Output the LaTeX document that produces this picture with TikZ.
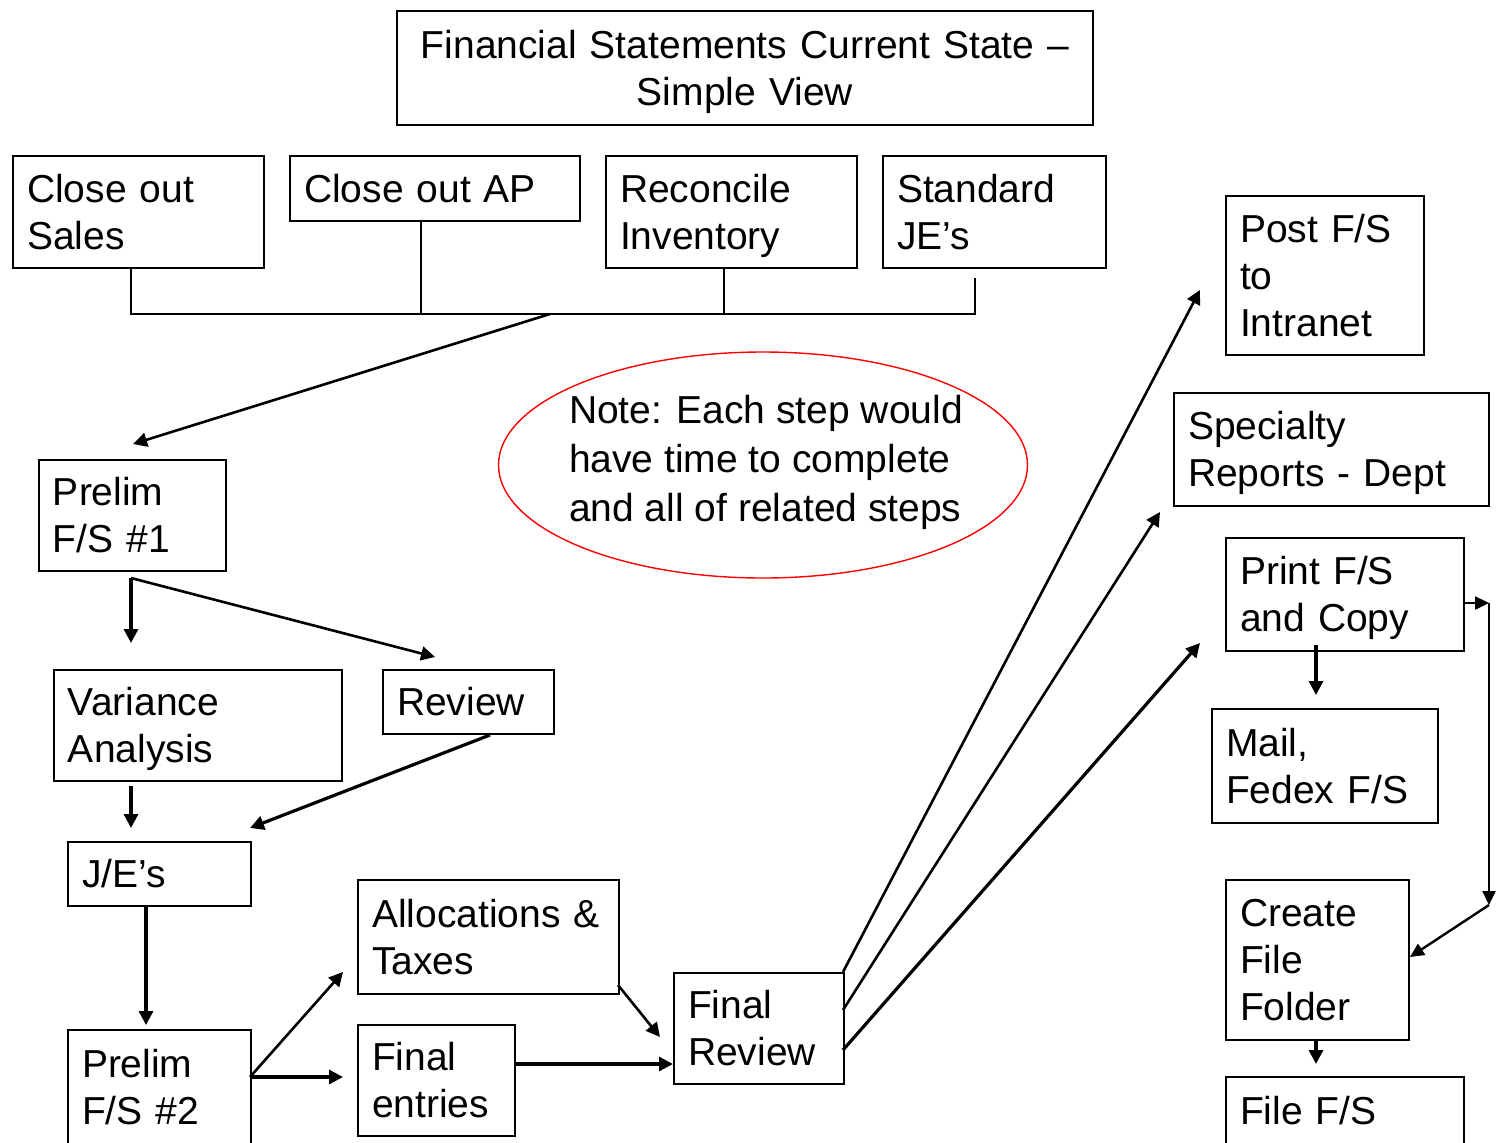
\documentclass[tikz,border=0pt]{standalone}
\usepackage{fontspec}
\setmainfont{Liberation Sans}
\usetikzlibrary{arrows.meta,shapes.geometric,calc}

% fixed first-line height and last-line depth keep the lines of every box at the same place
\newcommand{\toprule}{\rule{0pt}{18.5pt}}
\newcommand{\botrule}{\rule[-5pt]{0pt}{5pt}}
\newcommand{\notetop}{\rule{0pt}{15pt}}
\newcommand{\notebot}{\rule[-1pt]{0pt}{1pt}}

\tikzset{
  box/.style={draw, line width=1pt, anchor=north west, inner xsep=7pt, inner ysep=0pt,
    align=left, font=\fontsize{19.5}{23.5}\selectfont,
    execute at begin node=\toprule, execute at end node=\botrule},
  arr/.style={line width=1.6pt, -{Triangle[length=7pt,width=7pt]}},
  thinarr/.style={line width=1.2pt, -{Triangle[length=7pt,width=6.5pt]}},
  bus/.style={line width=1pt},
}

\begin{document}
\begin{tikzpicture}[x=0.5pt,y=-0.5pt]
\useasboundingbox (0,0) rectangle (1506,1142);
\fill[white] (0,0) rectangle (1506,1142);
\clip (0,0) rectangle (1506,1142);

% title
\node[box, align=center, text width=334pt, minimum width=348pt, minimum height=57pt] (title) at (396,10)
  {Financial Statements Current State --\\ Simple View};

% first row of closing tasks
\node[box, text width=111.5pt, minimum width=125.5pt, minimum height=56pt] (sales) at (12,155) {Close out\\ Sales};
\node[box, text width=131pt, minimum width=145pt, minimum height=32.5pt] (ap) at (289,155) {Close out AP};
\node[box, text width=111.5pt, minimum width=125.5pt, minimum height=56pt] (inv) at (605,155) {Reconcile\\ Inventory};
\node[box, text width=97.5pt, minimum width=111.5pt, minimum height=56pt] (stdje) at (882,155) {Standard\\ JE's};

% left column
\node[box, text width=79.5pt, minimum width=93.5pt, minimum height=55.5pt] (pre1) at (38,459) {Prelim\\ F/S \#1};
\node[box, text width=130pt, minimum width=144pt, minimum height=55.5pt] (var) at (53,669) {Variance\\ Analysis};
\node[box, text width=71.5pt, minimum width=85.5pt, minimum height=32pt] (rev) at (382,669) {Review};
\node[box, text width=77.5pt, minimum width=91.5pt, minimum height=32pt] (jes) at (67,841) {J/E's};
\node[box, text width=77.5pt, minimum width=91.5pt, minimum height=57.5pt] (pre2) at (67,1029) {Prelim\\ F/S \#2};
\node[box, text width=116.5pt, minimum width=130.5pt, minimum height=57pt] (alloc) at (357,879) {Allocations \&\\ Taxes};
\node[box, text width=64.5pt, minimum width=78.5pt, minimum height=55.5pt] (fent) at (357,1024) {Final\\ entries};
\node[box, text width=71pt, minimum width=85pt, minimum height=55.5pt] (frev) at (673,972) {Final\\ Review};

% right column
\node[box, text width=85pt, minimum width=99pt, minimum height=79.5pt] (post) at (1225,195) {Post F/S\\ to\\ Intranet};
\node[box, text width=143.5pt, minimum width=157.5pt, minimum height=56.5pt] (spec) at (1173,392) {Specialty\\ Reports - Dept};
\node[box, text width=105pt, minimum width=119pt, minimum height=56.5pt] (print) at (1225,537) {Print F/S\\ and Copy};
\node[box, text width=99pt, minimum width=113pt, minimum height=57pt] (mail) at (1211,708) {Mail,\\ Fedex F/S};
\node[box, text width=77.5pt, minimum width=91.5pt, minimum height=80pt] (create) at (1225,879) {Create\\ File\\ Folder};
\node[box, text width=105pt, minimum width=119pt, minimum height=34pt] (file) at (1225,1076) {File F/S};

% note
\node[draw=red, line width=0.7pt, ellipse, minimum width=264.5pt, minimum height=113pt, inner sep=0pt] (note) at (763,465) {};
\node[align=left, inner sep=0pt, font=\fontsize{19.5}{24.5}\selectfont,
  execute at begin node=\notetop, execute at end node=\notebot] (notetxt) at (766,462)
  {Note: Each step would\\ have time to complete\\ and all of related steps};

% bus joining the first row
\coordinate (busL) at (131,314);
\coordinate (busA) at (421,314);
\coordinate (busM) at (550,314);
\coordinate (busI) at (724,314);
\coordinate (busR) at (975,314);
\coordinate (pre1In) at (133,444);
\draw[bus] (sales.south -| busL) -- (busL) -- (busR) -- ($(stdje.south -| busR)+(0,9)$);
\draw[bus] (ap.south -| busA) -- (busA);
\draw[bus] (inv.south -| busI) -- (busI);
\draw[arr, line width=1.3pt] (busM) -- (pre1In);

% prelim 1 outputs
\coordinate (p1o) at (131,578);
\coordinate (revIn) at (435,657);
\draw[arr, shorten >=13pt] (p1o) -- (p1o |- var.north);
\draw[arr, line width=1.3pt] (p1o) -- (revIn);

% into J/E's
\coordinate (revOut) at (490,735);
\coordinate (jesIn) at (250,828);
\coordinate (varOut) at (131,786);
\draw[arr] (revOut) -- (jesIn);
\draw[arr, shorten >=6.5pt] (varOut) -- (varOut |- jes.north);

% J/E's to prelim 2
\coordinate (jesOut) at (146,905);
\draw[arr, shorten >=2pt] (jesOut) -- (jesOut |- pre2.north);

% prelim 2 outputs
\coordinate (p2o) at (250,1077);
\coordinate (allocIn) at (343,972);
\draw[arr, line width=1.3pt] (p2o) -- (allocIn);
\draw[arr, shorten >=7pt] (p2o) -- (p2o -| fent.west);

% into final review
\coordinate (allocOut) at (618,985);
\coordinate (frevIn) at (660,1037);
\coordinate (fentOut) at (514,1064);
\draw[arr, line width=1.3pt] (allocOut) -- (frevIn);
\draw[arr] (fentOut) -- (fentOut -| frev.west);

% final review to the right column
\coordinate (fr1) at (843,972);
\coordinate (fr2) at (843,1010);
\coordinate (fr3) at (843,1050);
\coordinate (postIn) at (1200,290);
\coordinate (specIn) at (1160,512);
\coordinate (printIn) at (1200,643);
\draw[arr, line width=1.3pt] (fr1) -- (postIn);
\draw[arr, line width=1.3pt] (fr2) -- (specIn);
\draw[arr] (fr3) -- (printIn);

% print outputs
\coordinate (prOut) at (1316,645);
\draw[arr, shorten >=6.5pt] (prOut) -- (prOut |- mail.north);
\coordinate (prR) at (1489,603);
\coordinate (prD) at (1489,905);
\coordinate (createIn) at (1410,957);
\draw[thinarr] (print.east |- prR) -- (prR);
\draw[thinarr] (prR) -- (prD);
\draw[thinarr] (prD) -- (createIn);

% folder to filing
\coordinate (crOut) at (1316,1039);
\draw[arr, shorten >=6pt] (crOut) -- (crOut |- file.north);
\end{tikzpicture}
\end{document}
